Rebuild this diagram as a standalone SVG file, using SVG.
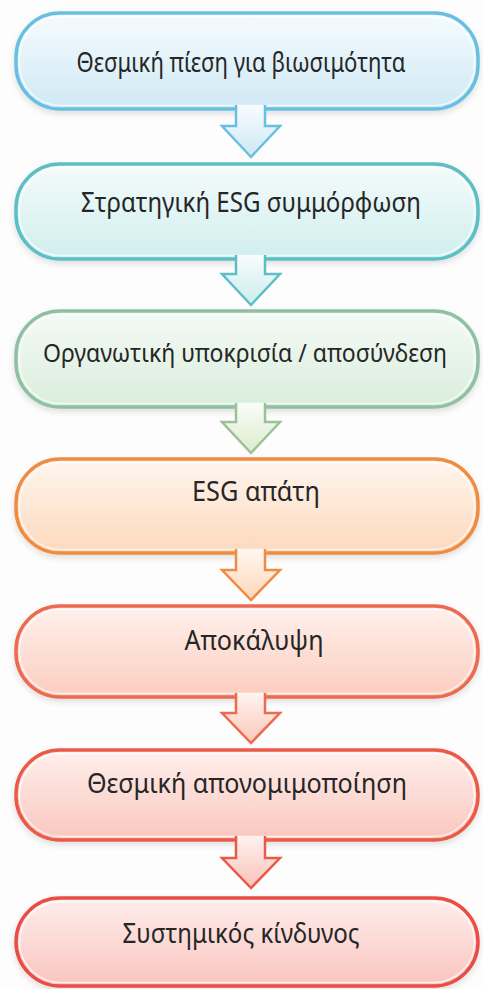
<svg xmlns="http://www.w3.org/2000/svg" width="483" height="989" viewBox="0 0 483 989">
<defs>
<filter id="sh" x="-10%" y="-10%" width="120%" height="130%">
<feDropShadow dx="0" dy="3" stdDeviation="3" flood-color="#000" flood-opacity="0.12"/>
</filter>
<linearGradient id="g1" x1="0" y1="0" x2="0" y2="1"><stop offset="0" stop-color="#f6fbfe"/><stop offset="1" stop-color="#cfe9f5"/></linearGradient>
<linearGradient id="g2" x1="0" y1="0" x2="0" y2="1"><stop offset="0" stop-color="#f5fbfb"/><stop offset="1" stop-color="#d0eeee"/></linearGradient>
<linearGradient id="g3" x1="0" y1="0" x2="0" y2="1"><stop offset="0" stop-color="#f5faf5"/><stop offset="1" stop-color="#d9eedd"/></linearGradient>
<linearGradient id="g4" x1="0" y1="0" x2="0" y2="1"><stop offset="0" stop-color="#fff6ef"/><stop offset="1" stop-color="#fdd9bd"/></linearGradient>
<linearGradient id="g5" x1="0" y1="0" x2="0" y2="1"><stop offset="0" stop-color="#fff1ec"/><stop offset="1" stop-color="#fbcdbf"/></linearGradient>
<linearGradient id="g6" x1="0" y1="0" x2="0" y2="1"><stop offset="0" stop-color="#ffefec"/><stop offset="1" stop-color="#fac7bf"/></linearGradient>
<linearGradient id="g7" x1="0" y1="0" x2="0" y2="1"><stop offset="0" stop-color="#ffeeec"/><stop offset="1" stop-color="#f9c4be"/></linearGradient>
<linearGradient id="a1" x1="0" y1="0" x2="0" y2="1"><stop offset="0" stop-color="#f8fcfe"/><stop offset="1" stop-color="#cde8f4"/></linearGradient>
<linearGradient id="a2" x1="0" y1="0" x2="0" y2="1"><stop offset="0" stop-color="#f8fcfc"/><stop offset="1" stop-color="#cdeced"/></linearGradient>
<linearGradient id="a3" x1="0" y1="0" x2="0" y2="1"><stop offset="0" stop-color="#fafcf8"/><stop offset="1" stop-color="#dbeccf"/></linearGradient>
<linearGradient id="a4" x1="0" y1="0" x2="0" y2="1"><stop offset="0" stop-color="#fff8f2"/><stop offset="1" stop-color="#fcd6b8"/></linearGradient>
<linearGradient id="a5" x1="0" y1="0" x2="0" y2="1"><stop offset="0" stop-color="#fff4f0"/><stop offset="1" stop-color="#fbc8b8"/></linearGradient>
<linearGradient id="a6" x1="0" y1="0" x2="0" y2="1"><stop offset="0" stop-color="#fff2f0"/><stop offset="1" stop-color="#f9c2b8"/></linearGradient>
</defs>
<style>
.box{stroke-width:3.5;filter:url(#sh)}
.inner{fill:none;stroke:#fff;stroke-opacity:0.7;stroke-width:1.5}
.lbl{font-family:"Noto Sans","Open Sans","DejaVu Sans",sans-serif;font-size:27px;fill:#262626;text-anchor:middle}
.lbl3{font-size:25px}
.arr{stroke-width:2.5;stroke-linejoin:miter}
</style>
<rect width="483" height="989" fill="#fdfdfd"/>
<g id="n1">
<rect class="box" x="16" y="13" width="462" height="96" rx="44" fill="url(#g1)" stroke="#68c0e0"/>
<rect class="inner" x="19.5" y="16.5" width="455" height="89" rx="41"/>
<text class="lbl" x="241" y="72" textLength="329" lengthAdjust="spacingAndGlyphs">Θεσμική πίεση για βιωσιμότητα</text>
</g>
<g id="n2">
<rect class="box" x="16" y="164" width="462" height="95" rx="44" fill="url(#g2)" stroke="#5cbfc5"/>
<rect class="inner" x="19.5" y="167.5" width="455" height="88" rx="41"/>
<text class="lbl" x="251" y="212" textLength="340" lengthAdjust="spacingAndGlyphs">Στρατηγική ESG συμμόρφωση</text>
</g>
<g id="n3">
<rect class="box" x="16" y="311" width="462" height="96" rx="44" fill="url(#g3)" stroke="#8fc0a2"/>
<rect class="inner" x="19.5" y="314.5" width="455" height="89" rx="41"/>
<text class="lbl lbl3" x="245" y="362" textLength="404" lengthAdjust="spacingAndGlyphs">Οργανωτική υποκρισία / αποσύνδεση</text>
</g>
<g id="n4">
<rect class="box" x="16" y="459" width="462" height="94" rx="44" fill="url(#g4)" stroke="#f08c42"/>
<rect class="inner" x="19.5" y="462.5" width="455" height="87" rx="41"/>
<text class="lbl" x="256" y="501" textLength="128" lengthAdjust="spacingAndGlyphs">ESG απάτη</text>
</g>
<g id="n5">
<rect class="box" x="16" y="606" width="462" height="91" rx="44" fill="url(#g5)" stroke="#ec6a4f"/>
<rect class="inner" x="19.5" y="609.5" width="455" height="84" rx="41"/>
<text class="lbl" x="254" y="650" textLength="139" lengthAdjust="spacingAndGlyphs">Αποκάλυψη</text>
</g>
<g id="n6">
<rect class="box" x="16" y="750" width="462" height="90" rx="44" fill="url(#g6)" stroke="#ea5a48"/>
<rect class="inner" x="19.5" y="753.5" width="455" height="83" rx="41"/>
<text class="lbl" x="247" y="793" textLength="320" lengthAdjust="spacingAndGlyphs">Θεσμική απονομιμοποίηση</text>
</g>
<g id="n7">
<rect class="box" x="16" y="898" width="462" height="88" rx="44" fill="url(#g7)" stroke="#e94e45"/>
<rect class="inner" x="19.5" y="901.5" width="455" height="81" rx="41"/>
<text class="lbl" x="241" y="943" textLength="237" lengthAdjust="spacingAndGlyphs">Συστημικός κίνδυνος</text>
</g>
<g id="connectors">
<path class="arr" d="M236,105 V126 H222 L251,157 L280,126 H265 V105" fill="url(#a1)" stroke="#68c0e0"/>
<path class="arr" d="M236,255 V274 H222 L251,305 L280,274 H265 V255" fill="url(#a2)" stroke="#5cbfc5"/>
<path class="arr" d="M236,403 V422 H222 L251,453 L280,422 H265 V403" fill="url(#a3)" stroke="#9cc196"/>
<path class="arr" d="M236,549 V570 H222 L251,600 L280,570 H265 V549" fill="url(#a4)" stroke="#f08c42"/>
<path class="arr" d="M236,693 V713 H222 L251,743 L280,713 H265 V693" fill="url(#a5)" stroke="#ec6a4f"/>
<path class="arr" d="M236,836 V858 H222 L251,888 L280,858 H265 V836" fill="url(#a6)" stroke="#ea5a48"/>
</g>
</svg>
